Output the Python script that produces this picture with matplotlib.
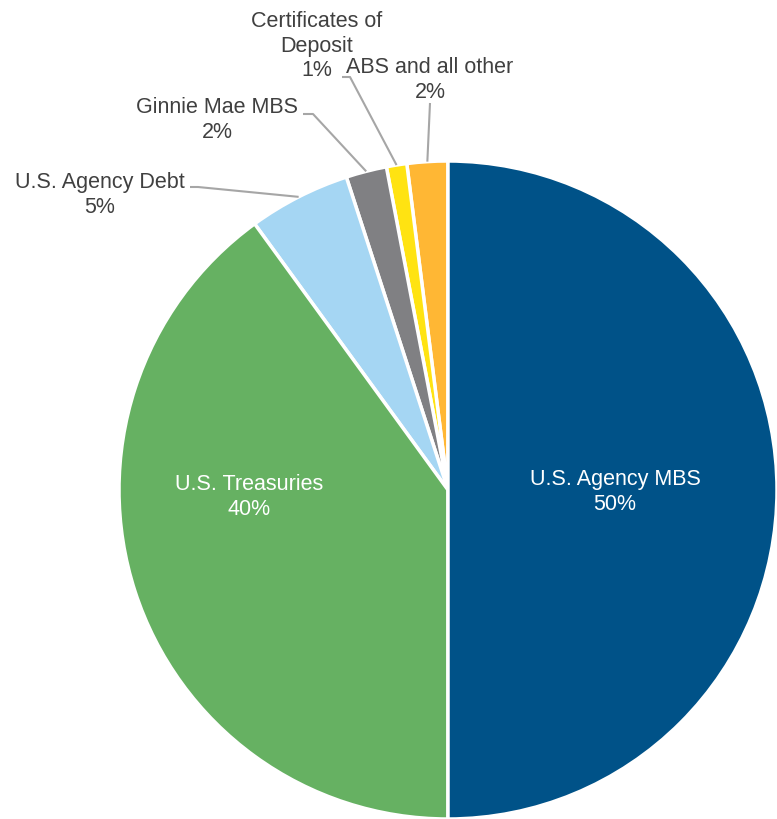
import matplotlib.pyplot as plt
import numpy as np

plt.rcParams['font.family'] = ['Liberation Sans', 'DejaVu Sans']

labels = ['ABS and all other', 'Certificates of\nDeposit', 'Ginnie Mae MBS',
          'U.S. Agency Debt', 'U.S. Treasuries', 'U.S. Agency MBS']
shares = [2, 1, 2, 5, 40, 50]
colors = ['#FFB734', '#FFE312', '#808083', '#A5D6F3', '#66B162', '#005288']

W, H = 777, 820
cx, cy, R = 448, 491, 329

# pixel -> axes data (pie radius = 1)
def px(x, y):
    return (x - cx) / R, (cy - y) / R

fig = plt.figure(figsize=(W / 100, H / 100), dpi=100)
ax = fig.add_axes([0, 0, 1, 1])

wedges, _ = ax.pie(shares, colors=colors, startangle=90, counterclock=True,
                   radius=1, wedgeprops=dict(edgecolor='white', linewidth=2.5))

# pie() resets the limits, so fix them afterwards
ax.set_xlim(-cx / R, (W - cx) / R)
ax.set_ylim(-(H - cy) / R, cy / R)
ax.set_aspect('equal')
ax.axis('off')

fs = 15.5
txt = '#404040'
line_c = '#A6A6A6'

# inner labels
for i, pos in [(5, (615, 492)), (4, (249, 497))]:
    ax.text(*px(*pos), f'{labels[i]}\n{shares[i]}%', color='white', fontsize=fs,
            ha='center', va='center', linespacing=1.2)

# outer labels with leader lines: (index, label centre, leader points before wedge)
outer = [
    (0, (430, 80), [(430, 104)]),
    (1, (317, 46), [(342, 78), (350, 78)]),
    (2, (217, 120), [(303, 115), (313, 115)]),
    (3, (100, 195), [(190, 188), (198, 188)]),
]
for i, pos, pts in outer:
    ax.text(*px(*pos), f'{labels[i]}\n{shares[i]}%', color=txt, fontsize=fs,
            ha='center', va='center', linespacing=1.2)
    w = wedges[i]
    mid = np.deg2rad((w.theta1 + w.theta2) / 2)
    xs = [px(*p)[0] for p in pts] + [np.cos(mid)]
    ys = [px(*p)[1] for p in pts] + [np.sin(mid)]
    ax.plot(xs, ys, color=line_c, lw=1.5, solid_capstyle='butt')

fig.savefig('out.png', dpi=100)
